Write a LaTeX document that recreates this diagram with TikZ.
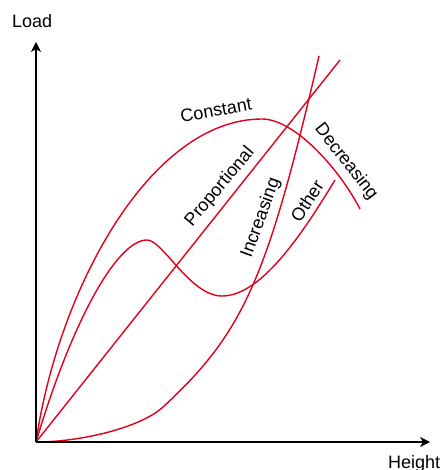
\documentclass[tikz,border=0pt]{standalone}
\usepackage{fontspec}
\setmainfont{Liberation Sans}
\usetikzlibrary{arrows.meta}
\definecolor{curvered}{RGB}{225,0,26}
\tikzset{
  axis/.style={draw=black, line width=1.5pt, -{Stealth[length=10pt,width=10pt,inset=3pt]}},
  curve/.style={draw=curvered, line width=1.4pt, line join=round},
  lbl/.style={inner sep=0pt, font=\fontsize{18}{21}\selectfont},
}
\begin{document}
\begin{tikzpicture}[x=1pt,y=-1pt]
\useasboundingbox (0,0) rectangle (443,470);
\coordinate (O) at (36,442);
\coordinate (ytip) at (36,42);
\coordinate (xtip) at (430,442);
\coordinate (propEnd) at (340,60);
% proportional
\draw[curve] (O) -- (propEnd);
% increasing
\draw[curve] (O) .. controls (80,442) and (140,428) .. (163,407)
                 .. controls (243,333) and (267,281) .. (319,56);
% constant + decreasing
\draw[curve] (O) .. controls (58,290) and (150,119) .. (262,119)
                 .. controls (295,119) and (340,170) .. (360,209);
% other
\draw[curve] (O) .. controls (72,321) and (117,240) .. (147,240)
                 .. controls (163,240) and (190,296) .. (222,296)
                 .. controls (260,296) and (300,238) .. (335,180);
% axes
\draw[axis] (O) -- (ytip);
\draw[axis] (O) -- (xtip);
% labels
\node[lbl, anchor=base west] (load) at (12,28) {Load};
\node[lbl, anchor=base west] (height) at (388,468) {Height};
\node[lbl, rotate=10] (const) at (216,110) {Constant};
\node[lbl, rotate=50] (prop) at (220,187) {Proportional};
\node[lbl, rotate=70] (incr) at (261,218) {Increasing};
\node[lbl, rotate=57] (other) at (307,201) {Other};
\node[lbl, rotate=-52] (decr) at (346,162) {Decreasing};
\end{tikzpicture}
\end{document}
